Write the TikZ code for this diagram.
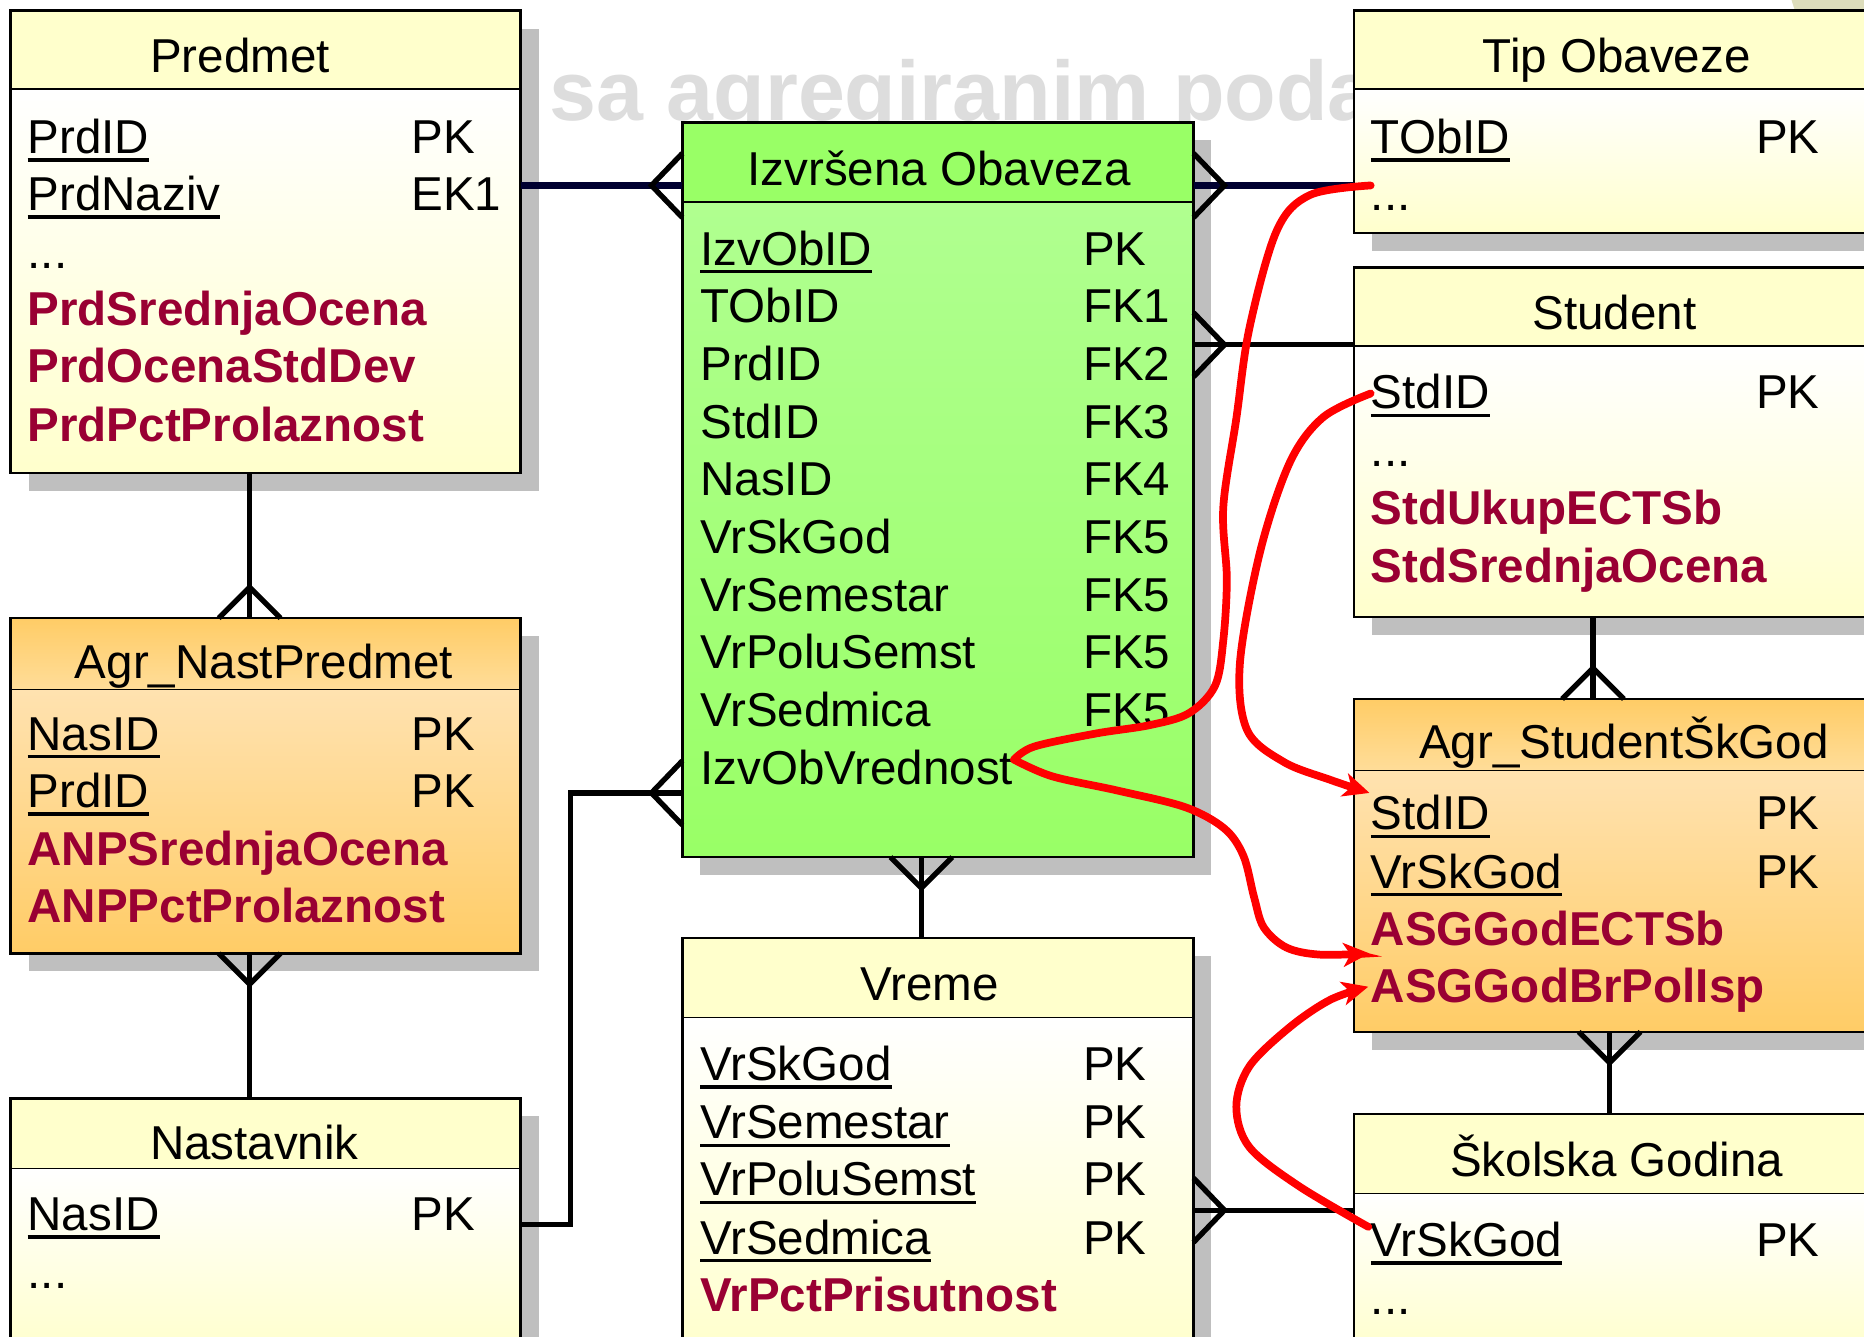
\documentclass[tikz,border=0pt]{standalone}
\usepackage{fontspec}
\setmainfont{Liberation Sans}
\usetikzlibrary{fit,arrows.meta,calc}

\definecolor{yel}{HTML}{FFFFCC}
\definecolor{grn}{HTML}{99FF66}
\definecolor{grnl}{HTML}{B0FF90}
\definecolor{org}{HTML}{FFCC66}
\definecolor{orgh}{HTML}{FFDD99}
\definecolor{orgl}{HTML}{FFE2B0}
\definecolor{shad}{HTML}{BFBFBF}
\definecolor{agr}{HTML}{990033}
\definecolor{wmc}{HTML}{DDDDDD}
\definecolor{olivec}{HTML}{DDDDBB}
\definecolor{navyc}{HTML}{000030}

\newcommand\undl[1]{\setbox0\hbox{#1}\rlap{\rule[-7pt]{\wd0}{3pt}}\box0}

\newcommand\ent[8]{%
  \fill[shad] (#2+15,#3+15) rectangle (#4+15,#5+15);
  \shade[#7] (#2,#3) rectangle (#4,#6);
  \shade[#8] (#2,#6) rectangle (#4,#5);
  \draw[line width=1.3pt] (#2,#6) -- (#4,#6);
  \node[frame, fit={(#2,#3) (#4,#5)}] (#1) {};
}
\newcommand\crowH[2]{\draw[crowst] ($#1+(0,-27)$) -- ($#1+(#2,0)$) -- ($#1+(0,27)$);}
\newcommand\crowV[2]{\draw[crowst] ($#1+(-26,0)$) -- ($#1+(0,#2)$) -- ($#1+(26,0)$);}

\begin{document}
\begin{tikzpicture}[x=1pt,y=-1pt,
  fld/.style={anchor=base west, inner sep=0, font=\fontsize{40}{48}\selectfont},
  agf/.style={anchor=base west, inner sep=0, text=agr, font=\fontsize{40}{48}\selectfont\bfseries},
  ttl/.style={anchor=base, inner sep=0, font=\fontsize{40}{48}\selectfont},
  frame/.style={draw, line width=2.2pt, inner sep=0pt, outer sep=0pt},
  headY/.style={top color=yel, bottom color=yel},
  bodyY/.style={top color=white, bottom color=yel},
  headG/.style={top color=grn, bottom color=grn},
  bodyG/.style={top color=grnl, middle color=white, bottom color=grn},
  headO/.style={top color=org, bottom color=orgh},
  bodyO/.style={top color=orgl, middle color=white, bottom color=org},
  conn/.style={line width=4.5pt, black},
  thickconn/.style={line width=6pt, navyc},
  crowst/.style={line width=4.5pt, black},
  redc/.style={line width=6.5pt, red, line cap=round},
  redarr/.style={line width=6.5pt, red, line cap=round, -{Stealth[length=22pt,width=20pt,inset=6pt]}}
]
\clip (0,0) rectangle (1568,1124);
\fill[white] (0,0) rectangle (1568,1124);
\fill[olivec] (1615,-30) circle (112);

% watermark title (cut by the boxes)
\node[anchor=base west, inner sep=0, text=wmc, font=\fontsize{71}{80}\selectfont\bfseries] (wm) at (462,101) {sa agregiranim poda};

% entities
\ent{pred}{9}{9}{438}{398}{75}{headY}{bodyY}
\ent{izv}{574}{103}{1004}{721}{170}{headG}{bodyG}
\ent{tip}{1139}{9}{1600}{196}{75}{headY}{bodyY}
\ent{stud}{1139}{225}{1600}{519}{291}{headY}{bodyY}
\ent{agst}{1139}{588}{1600}{868}{648}{headO}{bodyO}
\ent{skol}{1139}{937}{1600}{1140}{1004}{headY}{bodyY}
\ent{anp}{9}{520}{438}{802}{580}{headO}{bodyO}
\ent{nast}{9}{924}{438}{1140}{983}{headY}{bodyY}
\ent{vre}{574}{789}{1004}{1140}{856}{headY}{bodyY}

% Predmet
\node[ttl] (pT) at (202,61) {Predmet};
\node[fld] (p1) at (23,129) {\undl{PrdID}};
\node[fld] (p1k) at (346,129) {PK};
\node[fld] (p2) at (23,177) {\undl{PrdNaziv}};
\node[fld] (p2k) at (346,177) {EK1};
\node[fld] (p3) at (23,226) {...};
\node[agf] (p4) at (23,274) {PrdSrednjaOcena};
\node[agf] (p5) at (23,322) {PrdOcenaStdDev};
\node[agf] (p6) at (23,371) {PrdPctProlaznost};

% Izvrsena Obaveza
\node[ttl] (iT) at (790,156) {Izvršena Obaveza};
\node[fld] (i1) at (589,223) {\undl{IzvObID}};
\node[fld] (i1k) at (911,223) {PK};
\node[fld] (i2) at (589,271.5) {TObID};
\node[fld] (i2k) at (911,271.5) {FK1};
\node[fld] (i3) at (589,320) {PrdID};
\node[fld] (i3k) at (911,320) {FK2};
\node[fld] (i4) at (589,368.5) {StdID};
\node[fld] (i4k) at (911,368.5) {FK3};
\node[fld] (i5) at (589,417) {NasID};
\node[fld] (i5k) at (911,417) {FK4};
\node[fld] (i6) at (589,465.5) {VrSkGod};
\node[fld] (i6k) at (911,465.5) {FK5};
\node[fld] (i7) at (589,514) {VrSemestar};
\node[fld] (i7k) at (911,514) {FK5};
\node[fld] (i8) at (589,562.5) {VrPoluSemst};
\node[fld] (i8k) at (911,562.5) {FK5};
\node[fld] (i9) at (589,611) {VrSedmica};
\node[fld] (i9k) at (911,611) {FK5};
\node[fld] (i10) at (589,659.5) {IzvObVrednost};

% Tip Obaveze
\node[ttl] (tT) at (1360,61) {Tip Obaveze};
\node[fld] (t1) at (1153,129) {\undl{TObID}};
\node[fld] (t1k) at (1477,129) {PK};
\node[fld] (t2) at (1153,177) {...};

% Student
\node[ttl] (sT) at (1358,277) {Student};
\node[fld] (s1) at (1153,344) {\undl{StdID}};
\node[fld] (s1k) at (1477,344) {PK};
\node[fld] (s2) at (1153,392) {...};
\node[agf] (s3) at (1153,441) {StdUkupECTSb};
\node[agf] (s4) at (1153,490) {StdSrednjaOcena};

% Agr_StudentSkGod
\node[ttl] (aT) at (1366,638) {Agr\_StudentŠkGod};
\node[fld] (a1) at (1153,698) {\undl{StdID}};
\node[fld] (a1k) at (1477,698) {PK};
\node[fld] (a2) at (1153,747) {\undl{VrSkGod}};
\node[fld] (a2k) at (1477,747) {PK};
\node[agf] (a3) at (1153,795) {ASGGodECTSb};
\node[agf] (a4) at (1153,843) {ASGGodBrPolIsp};

% Skolska Godina
\node[ttl] (kT) at (1360,990) {Školska Godina};
\node[fld] (k1) at (1153,1057) {\undl{VrSkGod}};
\node[fld] (k1k) at (1477,1057) {PK};
\node[fld] (k2) at (1153,1106) {...};

% Agr_NastPredmet
\node[ttl] (nT) at (222,571) {Agr\_NastPredmet};
\node[fld] (n1) at (23,631) {\undl{NasID}};
\node[fld] (n1k) at (346,631) {PK};
\node[fld] (n2) at (23,679) {\undl{PrdID}};
\node[fld] (n2k) at (346,679) {PK};
\node[agf] (n3) at (23,728) {ANPSrednjaOcena};
\node[agf] (n4) at (23,776) {ANPPctProlaznost};

% Nastavnik
\node[ttl] (vT) at (214,975) {Nastavnik};
\node[fld] (v1) at (23,1035) {\undl{NasID}};
\node[fld] (v1k) at (346,1035) {PK};
\node[fld] (v2) at (23,1084) {...};

% Vreme
\node[ttl] (rT) at (782,842) {Vreme};
\node[fld] (r1) at (589,909) {\undl{VrSkGod}};
\node[fld] (r1k) at (911,909) {PK};
\node[fld] (r2) at (589,958) {\undl{VrSemestar}};
\node[fld] (r2k) at (911,958) {PK};
\node[fld] (r3) at (589,1006) {\undl{VrPoluSemst}};
\node[fld] (r3k) at (911,1006) {PK};
\node[fld] (r4) at (589,1055) {\undl{VrSedmica}};
\node[fld] (r4k) at (911,1055) {PK};
\node[agf] (r5) at (589,1103) {VrPctPrisutnost};

% connector reference coordinates
\coordinate (yA) at (0,156);
\coordinate (yB) at (0,290);
\coordinate (yC) at (0,667);
\coordinate (yD) at (0,1030);
\coordinate (yE) at (0,1018);
\coordinate (xA) at (210,0);
\coordinate (xB) at (775,0);
\coordinate (xC) at (1340,0);
\coordinate (xD) at (1354,0);

% relationships
\draw[thickconn] (pred.east |- yA) -- (izv.west |- yA);
\crowH{(izv.west |- yA)}{-26}
\draw[thickconn] (izv.east |- yA) -- (tip.west |- yA);
\crowH{(izv.east |- yA)}{26}
\draw[conn] (izv.east |- yB) -- (stud.west |- yB);
\crowH{(izv.east |- yB)}{26}
\draw[conn] (pred.south -| xA) -- (anp.north -| xA);
\crowV{(anp.north -| xA)}{-26}
\draw[conn] (anp.south -| xA) -- (nast.north -| xA);
\crowV{(anp.south -| xA)}{26}
\draw[conn] (nast.east |- yD) -- ++(42,0) |- (izv.west |- yC);
\crowH{(izv.west |- yC)}{-26}
\draw[conn] (izv.south -| xB) -- (vre.north -| xB);
\crowV{(izv.south -| xB)}{26}
\draw[conn] (vre.east |- yE) -- (skol.west |- yE);
\crowH{(vre.east |- yE)}{26}
\draw[conn] (stud.south -| xC) -- (agst.north -| xC);
\crowV{(agst.north -| xC)}{-26}
\draw[conn] (agst.south -| xD) -- (skol.north -| xD);
\crowV{(agst.south -| xD)}{26}

% red derivation curves
\coordinate (vtip) at (853,639);
\draw[redc] plot[smooth, tension=0.55] coordinates {(1153,156) (1102,164) (1074,194) (1051,276) (1040,352) (1029,427) (1032,487) (1029,539) (1022,577) (1000,600) (967,610) (922,617) (870,628) (vtip)};
\draw[redarr] plot[smooth, tension=0.55] coordinates {(vtip) (885,653) (940,665) (997,679) (1030,697) (1046,720) (1055,755) (1063,780) (1082,797) (1110,803) (1152,802)};
\draw[redarr] plot[smooth, tension=0.55] coordinates {(1153,331) (1113,351) (1085,389) (1060,464) (1043,558) (1049,614) (1080,641) (1119,656) (1152,667)};
\draw[redarr] plot[smooth, tension=0.55] coordinates {(1151,1032) (1093,998) (1051,965) (1040,931) (1051,897) (1085,864) (1119,841) (1151,830)};
\end{tikzpicture}
\end{document}
